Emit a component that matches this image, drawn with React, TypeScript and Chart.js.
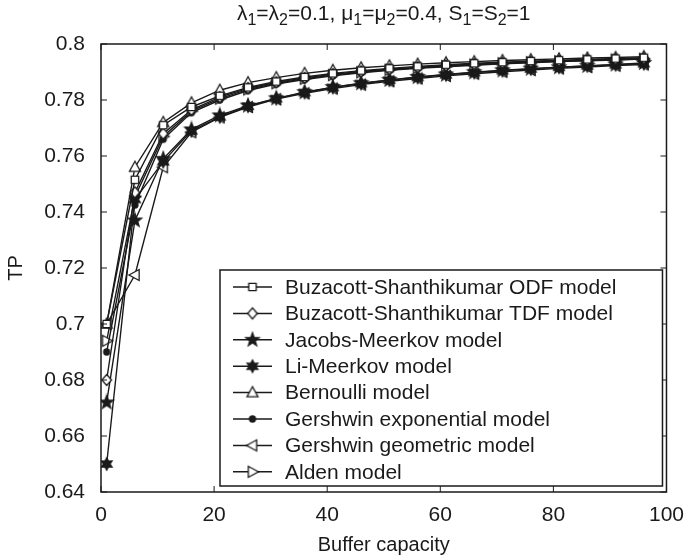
import React, { useEffect, useRef } from 'react';
import { Chart, registerables } from 'chart.js';
Chart.register(...registerables);

const bufferCapacity = [1, 6, 11, 16, 21, 26, 31, 36, 41, 46, 51, 56, 61, 66, 71, 76, 81, 86, 91, 96];

const buzacottODF = [0.700, 0.7515, 0.771, 0.7775, 0.7815, 0.7845, 0.7866, 0.7882, 0.7895, 0.7905, 0.7913, 0.7920, 0.7926, 0.7931, 0.7935, 0.7939, 0.7942, 0.7945, 0.7948, 0.7951];
const buzacottTDF = [0.680, 0.747, 0.768, 0.7765, 0.781, 0.7842, 0.7863, 0.7879, 0.7892, 0.7902, 0.7910, 0.7917, 0.7923, 0.7928, 0.7933, 0.7937, 0.7940, 0.7943, 0.7946, 0.7949];
const jacobsMeerkov = [0.672, 0.737, 0.759, 0.7695, 0.7745, 0.778, 0.7806, 0.7828, 0.7846, 0.7860, 0.7872, 0.7882, 0.7891, 0.7899, 0.7906, 0.7912, 0.7917, 0.7922, 0.7927, 0.7932];
const liMeerkov = [0.650, 0.7445, 0.758, 0.769, 0.774, 0.7778, 0.7805, 0.7827, 0.7845, 0.7859, 0.7871, 0.7881, 0.7890, 0.7898, 0.7905, 0.7911, 0.7917, 0.7922, 0.7926, 0.7930];
const bernoulli = [0.700, 0.756, 0.772, 0.779, 0.7835, 0.7862, 0.7880, 0.7895, 0.7906, 0.7915, 0.7922, 0.7928, 0.7933, 0.7937, 0.7941, 0.7944, 0.7947, 0.7950, 0.7952, 0.7955];
const gershwinExponential = [0.690, 0.7425, 0.766, 0.7755, 0.780, 0.7834, 0.7857, 0.7873, 0.7886, 0.7897, 0.7906, 0.7913, 0.7919, 0.7924, 0.7929, 0.7933, 0.7937, 0.7940, 0.7943, 0.7946];
const gershwinGeometric = [0.700, 0.7175, 0.756, 0.7685, 0.7738, 0.7775, 0.7803, 0.7824, 0.7841, 0.7855, 0.7867, 0.7877, 0.7886, 0.7894, 0.7901, 0.7907, 0.7913, 0.7918, 0.7923, 0.7927];
const alden = [0.694, 0.7455, 0.767, 0.776, 0.7805, 0.7838, 0.7860, 0.7876, 0.7889, 0.7899, 0.7908, 0.7915, 0.7921, 0.7926, 0.7931, 0.7935, 0.7938, 0.7941, 0.7944, 0.7947];

const seriesLabels = [
  'Buzacott-Shanthikumar ODF model',
  'Buzacott-Shanthikumar TDF model',
  'Jacobs-Meerkov model',
  'Li-Meerkov model',
  'Bernoulli model',
  'Gershwin exponential model',
  'Gershwin geometric model',
  'Alden model',
];
const seriesMarkers = ['square', 'diamond', 'star5', 'star6', 'triUp', 'dot', 'triLeft', 'triRight'];
const seriesValues = [buzacottODF, buzacottTDF, jacobsMeerkov, liMeerkov, bernoulli, gershwinExponential, gershwinGeometric, alden];

const yTickValues = [0.64, 0.66, 0.68, 0.7, 0.72, 0.74, 0.76, 0.78, 0.8];
const xTickValues = [0, 20, 40, 60, 80, 100];

const titleParts: [string, boolean][] = [
  ['λ', false], ['1', true], ['=λ', false], ['2', true], ['=0.1, μ', false], ['1', true],
  ['=μ', false], ['2', true], ['=0.4, S', false], ['1', true], ['=S', false], ['2', true], ['=1', false],
];
const xAxisTitle = 'Buffer capacity';
const yAxisTitle = 'TP';

const INK = '#1a1a1a';
const FONT = '"Liberation Sans", Arial, Helvetica, sans-serif';

function starPath(g: CanvasRenderingContext2D, n: number, ro: number, ri: number) {
  for (let i = 0; i < 2 * n; i++) {
    const r = i % 2 === 0 ? ro : ri;
    const a = -Math.PI / 2 + (i * Math.PI) / n;
    const px = r * Math.cos(a);
    const py = r * Math.sin(a);
    if (i === 0) g.moveTo(px, py); else g.lineTo(px, py);
  }
  g.closePath();
}

function makeMarker(kind: string): HTMLCanvasElement {
  const s = 18;
  const c = document.createElement('canvas');
  c.width = s; c.height = s;
  const g = c.getContext('2d')!;
  g.translate(s / 2, s / 2);
  g.lineWidth = 1.3;
  g.strokeStyle = INK;
  g.fillStyle = '#fff';
  g.beginPath();
  let filled = false;
  switch (kind) {
    case 'square': g.rect(-3.7, -3.7, 7.4, 7.4); break;
    case 'diamond': g.moveTo(0, -5.5); g.lineTo(4.8, 0); g.lineTo(0, 5.5); g.lineTo(-4.8, 0); g.closePath(); break;
    case 'star5': starPath(g, 5, 7, 2.9); filled = true; break;
    case 'star6': starPath(g, 6, 6.2, 3.4); filled = true; break;
    case 'triUp': g.moveTo(0, -6); g.lineTo(5.5, 4.2); g.lineTo(-5.5, 4.2); g.closePath(); break;
    case 'triLeft': g.moveTo(-6, 0); g.lineTo(4.2, -5.5); g.lineTo(4.2, 5.5); g.closePath(); break;
    case 'triRight': g.moveTo(6, 0); g.lineTo(-4.2, -5.5); g.lineTo(-4.2, 5.5); g.closePath(); break;
    case 'dot': g.arc(0, 0, 3, 0, Math.PI * 2); filled = true; break;
  }
  if (filled) { g.fillStyle = INK; g.fill(); g.stroke(); }
  else { g.fill(); g.stroke(); }
  return c;
}

const decorPlugin = {
  id: 'decor',
  afterDraw(chart: any) {
    const { ctx, chartArea, scales } = chart;
    const { left, right, top, bottom } = chartArea;
    const xs = scales.x, ys = scales.y;
    ctx.save();
    // box
    ctx.strokeStyle = INK;
    ctx.lineWidth = 1.5;
    ctx.strokeRect(left, top, right - left, bottom - top);
    // inward ticks
    const tl = 6;
    ctx.beginPath();
    xTickValues.forEach((v) => {
      const px = xs.getPixelForValue(v);
      ctx.moveTo(px, bottom); ctx.lineTo(px, bottom - tl);
      ctx.moveTo(px, top); ctx.lineTo(px, top + tl);
    });
    yTickValues.forEach((v) => {
      const py = ys.getPixelForValue(v);
      ctx.moveTo(left, py); ctx.lineTo(left + tl, py);
      ctx.moveTo(right, py); ctx.lineTo(right - tl, py);
    });
    ctx.lineWidth = 1;
    ctx.stroke();

    // title with subscripts
    const mainSize = 21, subSize = 16;
    let total = 0;
    titleParts.forEach(([t, sub]) => {
      ctx.font = `${sub ? subSize : mainSize}px ${FONT}`;
      total += ctx.measureText(t).width;
    });
    let tx = (left + right) / 2 - total / 2;
    const baseY = 20;
    ctx.fillStyle = INK;
    ctx.textBaseline = 'alphabetic';
    ctx.textAlign = 'left';
    titleParts.forEach(([t, sub]) => {
      ctx.font = `${sub ? subSize : mainSize}px ${FONT}`;
      ctx.fillText(t, tx, sub ? baseY + 5 : baseY);
      tx += ctx.measureText(t).width;
    });

    // axis titles
    ctx.font = `20px ${FONT}`;
    ctx.textAlign = 'center';
    ctx.textBaseline = 'middle';
    ctx.fillText(xAxisTitle, (left + right) / 2, 545);
    ctx.save();
    ctx.translate(16, (top + bottom) / 2);
    ctx.rotate(-Math.PI / 2);
    ctx.fillText(yAxisTitle, 0, 0);
    ctx.restore();

    // legend
    const lx0 = 220, ly0 = 270, lx1 = right - 4, ly1 = bottom - 6;
    ctx.fillStyle = '#fff';
    ctx.fillRect(lx0, ly0, lx1 - lx0, ly1 - ly0);
    ctx.strokeStyle = INK;
    ctx.lineWidth = 1.5;
    ctx.strokeRect(lx0, ly0, lx1 - lx0, ly1 - ly0);
    const rowH = 26.4;
    chart.data.datasets.forEach((ds: any, i: number) => {
      const ry = 287 + i * rowH;
      ctx.beginPath();
      ctx.moveTo(233, ry); ctx.lineTo(272, ry);
      ctx.strokeStyle = INK;
      ctx.lineWidth = 1.5;
      ctx.stroke();
      const img = ds.pointStyle as HTMLCanvasElement;
      ctx.drawImage(img, 252.5 - img.width / 2, ry - img.height / 2);
      ctx.fillStyle = INK;
      ctx.font = `21px ${FONT}`;
      ctx.textAlign = 'left';
      ctx.textBaseline = 'middle';
      ctx.fillText(ds.label, 285, ry + 1);
    });
    ctx.restore();
  },
};

export default function App() {
  const ref = useRef<HTMLCanvasElement>(null);
  useEffect(() => {
    const canvas = ref.current!;
    const datasets = seriesLabels.map((label, i) => ({
      label,
      data: bufferCapacity.map((x, j) => ({ x, y: seriesValues[i][j] })),
      borderColor: INK,
      backgroundColor: INK,
      borderWidth: 1.4,
      pointStyle: makeMarker(seriesMarkers[i]),
      pointRadius: 5,
      tension: 0,
      fill: false,
    }));
    const chart = new Chart(canvas, {
      type: 'line',
      data: { datasets },
      options: {
        animation: false,
        responsive: false,
        maintainAspectRatio: false,
        layout: { padding: { left: 0, top: 44, right: 17, bottom: 0 } },
        plugins: { legend: { display: false }, title: { display: false }, tooltip: { enabled: false } },
        scales: {
          x: {
            type: 'linear',
            min: 0,
            max: 100,
            grid: { display: false },
            border: { display: false },
            afterBuildTicks: (scale: any) => { scale.ticks = xTickValues.map((v) => ({ value: v })); },
            afterFit: (scale: any) => { scale.height = 66; },
            ticks: { color: INK, font: { family: FONT, size: 21 }, padding: 3, maxRotation: 0, callback: (v: any) => String(v) },
          },
          y: {
            type: 'linear',
            min: 0.64,
            max: 0.8,
            grid: { display: false },
            border: { display: false },
            afterBuildTicks: (scale: any) => { scale.ticks = yTickValues.map((v) => ({ value: v })); },
            afterFit: (scale: any) => { scale.width = 101; },
            ticks: { color: INK, font: { family: FONT, size: 21 }, padding: 8, callback: (v: any) => String(+Number(v).toFixed(2)) },
          },
        },
      },
      plugins: [decorPlugin],
    });
    return () => chart.destroy();
  }, []);
  return (
    <div style={{ position: 'fixed', left: 0, top: 0, width: 687, height: 558, background: '#fff' }}>
      <canvas ref={ref} width={687} height={558} style={{ width: 687, height: 558 }} />
    </div>
  );
}
